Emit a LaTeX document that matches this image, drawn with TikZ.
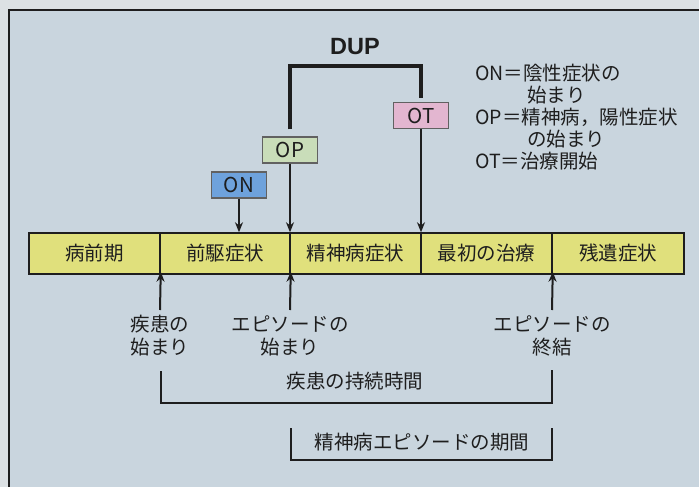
\documentclass[tikz,border=0pt]{standalone}
\usepackage{fontspec}
\setmainfont{Noto Sans CJK JP}
\newfontfamily\dupfont{Liberation Sans}
\usetikzlibrary{arrows.meta,calc}
\definecolor{bgout}{HTML}{DCE1E4}
\definecolor{bgin}{HTML}{C9D5DE}
\definecolor{barfill}{HTML}{E0E07C}
\definecolor{onfill}{HTML}{6EA2DC}
\definecolor{opfill}{HTML}{C9DDB9}
\definecolor{otfill}{HTML}{E3B6D0}
\definecolor{ink}{HTML}{1E1E1E}
\tikzset{
  segbox/.style={draw=ink, line width=1.5pt, fill=barfill, minimum height=41pt, inner sep=0pt, font=\fontsize{19.5}{22}\selectfont, text=ink},
  tagbox/.style={draw=ink!70, line width=1.2pt, minimum width=55pt, minimum height=26pt, inner sep=0pt, font=\fontsize{20.5}{22}\selectfont, text=ink},
  arr/.style={draw=ink, line width=2pt, -{Stealth[length=10pt,width=8pt]}},
  dupline/.style={draw=ink, line width=4pt},
  brk/.style={draw=ink, line width=1.7pt},
  lbl/.style={font=\fontsize{19.5}{23}\selectfont, text=ink, align=center, inner sep=0pt},
  leg/.style={font=\fontsize{19.5}{22}\selectfont, text=ink, anchor=west, inner sep=0pt}
}
\begin{document}
\begin{tikzpicture}[x=1pt,y=-1pt]
\useasboundingbox (0,0) rectangle (699,487);
\fill[bgout] (0,0) rectangle (699,487);
\fill[bgin] (9,10) rectangle (699,487);
\draw[ink, line width=1.5pt] (9,487) -- (9,10) -- (699,10);

% time bar
\node[segbox, minimum width=131pt] (s1) at (94.5,253.5) {病前期};
\node[segbox, minimum width=130pt] (s2) at (225,253.5) {前駆症状};
\node[segbox, minimum width=131pt] (s3) at (355.5,253.5) {精神病症状};
\node[segbox, minimum width=131pt] (s4) at (486.5,253.5) {最初の治療};
\node[segbox, minimum width=132pt] (s5) at (618,253.5) {残遺症状};

% onset boxes
\node[tagbox, fill=onfill] (on) at (239,185) {ON};
\node[tagbox, fill=opfill] (op) at (290,150) {OP};
\node[tagbox, fill=otfill] (ot) at (421,115.5) {OT};

\draw[arr] (on.south) -- (on.south |- s2.north);
\draw[arr] (op.south) -- (op.south |- s3.north);
\draw[arr] (ot.south) -- (ot.south |- s4.north);

% DUP bracket
\coordinate (dupc) at (355,66);
\node[font=\dupfont\bfseries\fontsize{23.5}{26}\selectfont, text=ink] (dup) at (355,47) {DUP};
\draw[dupline] ($(op.north)+(0,-7)$) |- (dupc) -| ($(ot.north)+(0,-4)$);

% legend
\node[leg] (g1) at (475,73) {ON＝陰性症状の};
\node[leg] (g2) at (527,95) {始まり};
\node[leg] (g3) at (475,117) {OP＝精神病，陽性症状};
\node[leg] (g4) at (527,139) {の始まり};
\node[leg] (g5) at (475,161) {OT＝治療開始};

% lower labels
\node[lbl] (l1) at (160,336) {疾患の\\始まり};
\node[lbl] (l2) at (290,336) {エピソードの\\始まり};
\node[lbl] (l3) at (552,336) {エピソードの\\終結};
\coordinate (a1) at (160,310);
\coordinate (a2) at (290,310);
\coordinate (a3) at (552,310);
\draw[arr] (a1) -- ([yshift=3pt]s1.south east);
\draw[arr] (a2) -- ([yshift=3pt]s2.south east);
\draw[arr] (a3) -- ([yshift=3pt]s4.south east);

% duration brackets
\node[lbl] (d1) at (355,381) {疾患の持続時間};
\coordinate (d1l) at (161,371);
\coordinate (d1r) at (552,370);
\draw[brk] (d1l) |- (355,403) -| (d1r);
\node[lbl] (d2) at (422,442) {精神病エピソードの期間};
\coordinate (d2l) at (291,428);
\coordinate (d2r) at (552,428);
\draw[brk] (d2l) |- (421,460) -| (d2r);
\end{tikzpicture}
\end{document}
